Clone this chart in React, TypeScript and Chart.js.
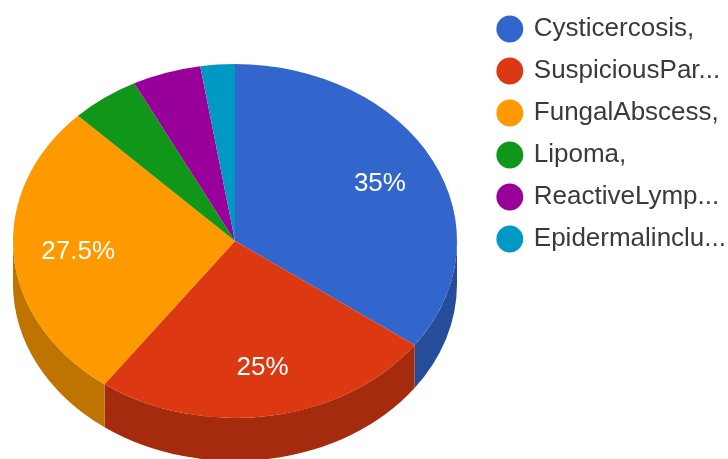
import React, { useEffect, useRef } from "react";
import { Chart, registerables } from "chart.js";

Chart.register(...registerables);

const categories = [
  "Cysticercosis,",
  "SuspiciousPar...",
  "FungalAbscess,",
  "Lipoma,",
  "ReactiveLymp...",
  "Epidermalinclu...",
];
const shares = [35, 25, 27.5, 5, 5, 2.5];
const faceColors = ["#3366cc", "#dc3912", "#ff9900", "#109618", "#990099", "#0099c6"];
const wallColors = ["#264d99", "#a52b0e", "#bf7300", "#0c7012", "#730073", "#007394"];

const PIE_CX = 235;
const PIE_CY = 241;
const TILT = 177 / 222;
const DEPTH = 43;
const LABEL_RADIUS_X = 0.72;
const LABEL_RADIUS_Y = 0.72;
const LABEL_DX = 2.5;
const LABEL_DY = 1;
const MIN_LABEL_SHARE = 10;

const pie3d = {
  id: "pie3d",
  beforeDatasetsDraw(chart: any) {
    const ctx = chart.ctx;
    const arcs = chart.getDatasetMeta(0).data;
    ctx.save();
    arcs.forEach((arc: any, i: number) => {
      const { startAngle, endAngle, outerRadius } = arc.getProps(["startAngle", "endAngle", "outerRadius"]);
      const a0 = Math.max(startAngle, 0);
      const a1 = Math.min(endAngle, Math.PI);
      if (a1 <= a0) return;
      const rx = outerRadius;
      const ry = outerRadius * TILT;
      ctx.beginPath();
      ctx.ellipse(PIE_CX, PIE_CY, rx, ry, 0, a0, a1);
      ctx.ellipse(PIE_CX, PIE_CY + DEPTH, rx, ry, 0, a1, a0, true);
      ctx.closePath();
      ctx.fillStyle = wallColors[i];
      ctx.fill();
    });
    ctx.restore();
    const { x, y } = arcs[0].getProps(["x", "y"]);
    ctx.save();
    ctx.translate(PIE_CX, PIE_CY);
    ctx.scale(1, TILT);
    ctx.translate(-x, -y);
  },
  afterDatasetsDraw(chart: any) {
    const ctx = chart.ctx;
    ctx.restore();
    const arcs = chart.getDatasetMeta(0).data;
    ctx.save();
    ctx.font = "26px 'Liberation Sans'";
    ctx.fillStyle = "#ffffff";
    ctx.textAlign = "center";
    ctx.textBaseline = "middle";
    arcs.forEach((arc: any, i: number) => {
      if (shares[i] < MIN_LABEL_SHARE) return;
      const { startAngle, endAngle, outerRadius } = arc.getProps(["startAngle", "endAngle", "outerRadius"]);
      const mid = (startAngle + endAngle) / 2;
      const px = PIE_CX + Math.cos(mid) * outerRadius * LABEL_RADIUS_X + LABEL_DX;
      const py = PIE_CY + Math.sin(mid) * outerRadius * TILT * LABEL_RADIUS_Y + LABEL_DY;
      ctx.fillText(`${shares[i]}%`, px, py);
    });
    ctx.restore();
  },
};

export default function App() {
  const ref = useRef<HTMLCanvasElement>(null);
  useEffect(() => {
    document.body.style.margin = "0";
    const chart = new Chart(ref.current as HTMLCanvasElement, {
      type: "pie",
      data: {
        labels: categories,
        datasets: [
          {
            data: shares,
            backgroundColor: faceColors,
            borderWidth: 0,
            clip: false,
          } as any,
        ],
      },
      options: {
        responsive: false,
        animation: false,
        layout: { padding: { left: 0, right: -8, top: 0, bottom: 15 } },
        plugins: {
          tooltip: { enabled: false },
          legend: {
            position: "right",
            align: "start",
            labels: {
              usePointStyle: true,
              pointStyle: "circle",
              boxWidth: 22,
              boxHeight: 19,
              padding: 16,
              color: "#3a3a3a",
              font: { family: "'Liberation Sans'", size: 26 },
            },
          },
        },
      },
      plugins: [pie3d],
    });
    return () => chart.destroy();
  }, []);
  return (
    <canvas
      ref={ref}
      width={728}
      height={459}
      style={{ display: "block", width: 728, height: 459, filter: "blur(0.5px)" }}
    />
  );
}
